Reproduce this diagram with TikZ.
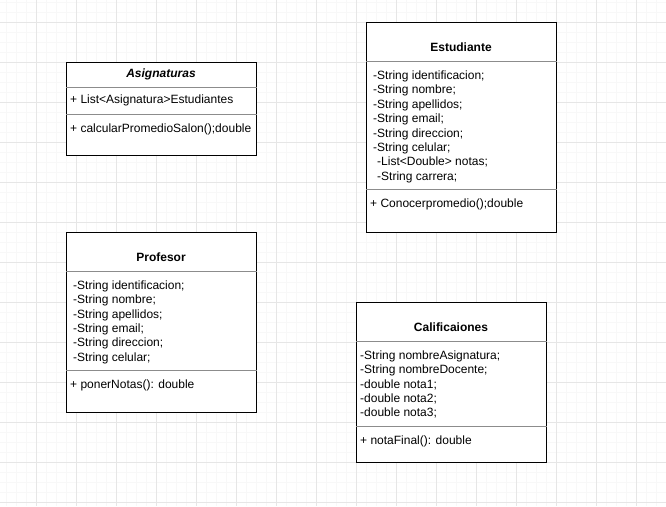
\documentclass[tikz,border=0pt]{standalone}
\usepackage{fontspec}
\setmainfont{Liberation Sans}
\definecolor{gridminor}{RGB}{248,248,248}
\definecolor{gridmajor}{RGB}{230,230,230}
\definecolor{divgray}{RGB}{140,140,140}
\tikzset{
  classbox/.style={draw=black,line width=1.3pt,fill=white,anchor=north west,inner sep=0},
  divider/.style={draw=divgray,line width=0.9pt},
  classtitle/.style={anchor=base,inner sep=0,font=\fontsize{12}{14}\selectfont\bfseries},
  member/.style={anchor=base west,inner sep=0,font=\fontsize{12}{14}\selectfont}
}
\begin{document}
\begin{tikzpicture}[x=1pt,y=-1pt]
      \useasboundingbox (0,0) rectangle (666,506);
      \fill[white] (0,0) rectangle (666,506);
      % grid
      \foreach \x in {6,16,...,666} \draw[gridminor,line width=0.8pt] (\x,0) -- (\x,506);
      \foreach \y in {2,12,...,502} \draw[gridminor,line width=0.8pt] (0,\y) -- (666,\y);
      \foreach \x in {36,76,...,636} \draw[gridmajor,line width=0.8pt] (\x,0) -- (\x,506);
      \foreach \y in {22,62,...,502} \draw[gridmajor,line width=0.8pt] (0,\y) -- (666,\y);
      % Asignaturas
      \node[classbox,minimum width=190,minimum height=93] (asig) at (66,62) {};
      \draw[divider] ([yshift=-25pt]asig.north west) -- ([yshift=-25pt]asig.north east);
      \draw[divider] ([yshift=-52pt]asig.north west) -- ([yshift=-52pt]asig.north east);
      \node[classtitle] (asigT) at (161,77.5) {\itshape Asignaturas};
      \node[member] (asigA) at (70,103.5) {+ List<Asignatura>Estudiantes};
      \node[member] (asigM) at (70,132) {+ calcularPromedioSalon();double};
      % Estudiante
      \node[classbox,minimum width=190,minimum height=210] (est) at (366,22) {};
      \draw[divider] ([yshift=-39pt]est.north west) -- ([yshift=-39pt]est.north east);
      \draw[divider] ([yshift=-167pt]est.north west) -- ([yshift=-167pt]est.north east);
      \node[classtitle] (estT) at (461,51) {Estudiante};
      \foreach \txt [count=\i] in {-String identificacion;,-String nombre;,-String apellidos;,
          -String email;,-String direccion;,-String celular;}
        \node[member] (estA\i) at (373,79.5+14.4*\i-14.4) {\txt};
      \node[member] (estA7) at (377,79.5+14.4*6) {-List<Double> notas;};
      \node[member] (estA8) at (377,79.5+14.4*7) {-String carrera;};
      \node[member] (estM) at (370,207) {+ Conocerpromedio();double};
      % Profesor
      \node[classbox,minimum width=190,minimum height=180] (prof) at (66,232) {};
      \draw[divider] ([yshift=-39pt]prof.north west) -- ([yshift=-39pt]prof.north east);
      \draw[divider] ([yshift=-138pt]prof.north west) -- ([yshift=-138pt]prof.north east);
      \node[classtitle] (profT) at (161,261) {Profesor};
      \foreach \txt [count=\i] in {-String identificacion;,-String nombre;,-String apellidos;,
          -String email;,-String direccion;,-String celular;}
        \node[member] (profA\i) at (73,289.5+14.3*\i-14.3) {\txt};
      \node[member] (profM) at (70,388) {+ ponerNotas(): double};
      % Calificaiones
      \node[classbox,minimum width=190,minimum height=160] (cal) at (356,302) {};
      \draw[divider] ([yshift=-39pt]cal.north west) -- ([yshift=-39pt]cal.north east);
      \draw[divider] ([yshift=-124pt]cal.north west) -- ([yshift=-124pt]cal.north east);
      \node[classtitle] (calT) at (451,331) {Calificaiones};
      \foreach \txt [count=\i] in {-String nombreAsignatura;,-String nombreDocente;,
          -double nota1;,-double nota2;,-double nota3;}
        \node[member] (calA\i) at (360,359.5+14.25*\i-14.25) {\txt};
      \node[member] (calM) at (360,444.5) {+ notaFinal(): double};
\end{tikzpicture}
\end{document}
